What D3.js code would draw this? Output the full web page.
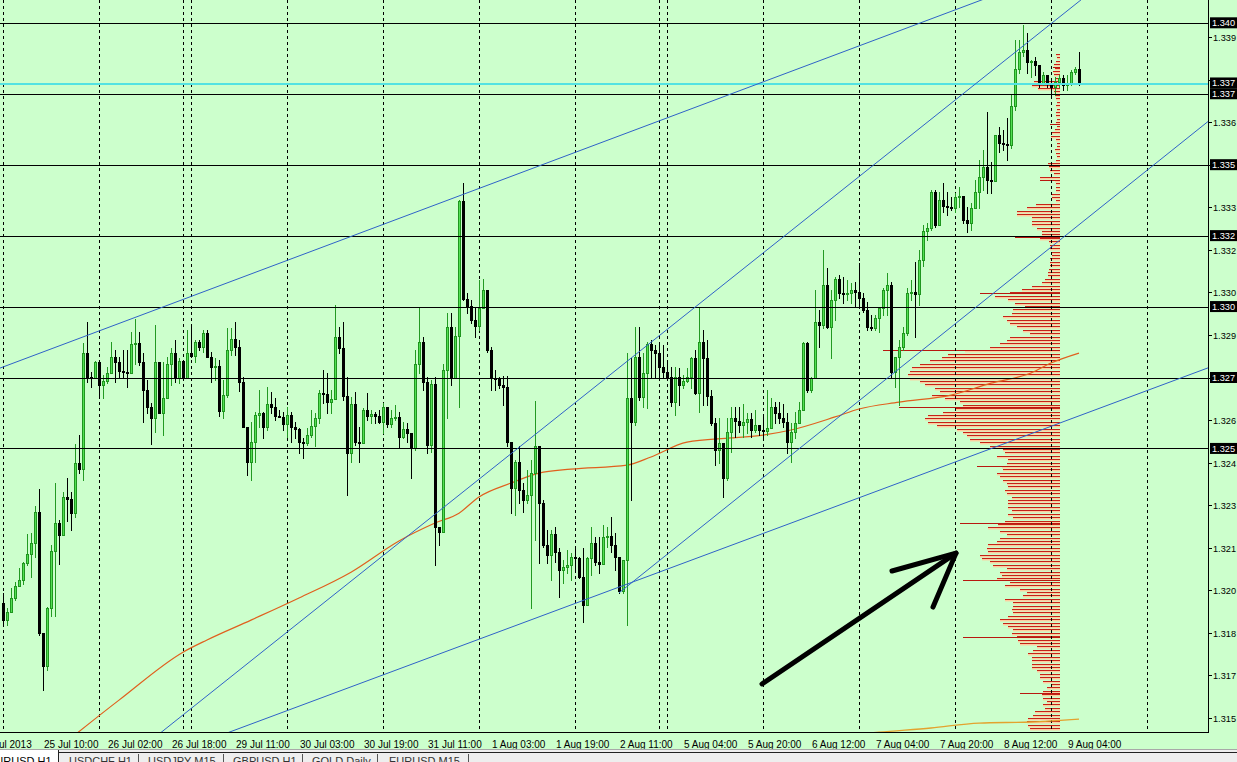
<!DOCTYPE html>
<html><head><meta charset="utf-8">
<script src="https://cdn.jsdelivr.net/npm/d3@7"></script>
<style>
html,body{margin:0;padding:0;background:#ccffcc;overflow:hidden}
svg{display:block}
text{font-family:"Liberation Sans",Arial,sans-serif}
</style></head><body>
<svg id="chart" width="1237" height="762"></svg>
<script>
// ---------- DATA (EURUSD H1, bar index 0 = 25 Jul 2013 00:00) ----------
const open = [
1.31905,1.31845,1.31873,1.31923,1.31965,1.31986,1.32046,1.32078,1.32116,1.32226,
1.31799,1.31683,1.31887,1.32088,1.32187,1.32145,1.32279,1.32272,1.32222,1.32398,
1.32377,1.32786,1.32701,1.32698,1.32754,1.32673,1.32687,1.32716,1.32772,1.32754,
1.32723,1.32719,1.32716,1.32818,1.32821,1.32754,1.32656,1.32596,1.32557,1.32754,
1.32575,1.32627,1.32747,1.32786,1.32698,1.32758,1.32698,1.32786,1.32775,1.32825,
1.32807,1.32857,1.32772,1.32737,1.32740,1.32582,1.32638,1.32797,1.32835,1.32807,
1.32684,1.32525,1.32402,1.32472,1.32568,1.32575,1.32525,1.32606,1.32596,1.32564,
1.32561,1.32536,1.32568,1.32525,1.32518,1.32472,1.32469,1.32497,1.32529,1.32557,
1.32645,1.32642,1.32613,1.32624,1.32842,1.32804,1.32634,1.32434,1.32606,1.32472,
1.32469,1.32585,1.32564,1.32571,1.32564,1.32543,1.32596,1.32536,1.32557,1.32561,
1.32490,1.32518,1.32504,1.32451,1.32747,1.32825,1.32684,1.32462,1.32677,1.32173,
1.32155,1.32726,1.32878,1.32698,1.32846,1.33322,1.32976,1.32952,1.32902,1.32881,
1.32945,1.33008,1.32797,1.32698,1.32694,1.32673,1.32666,1.32472,1.32310,1.32402,
1.32303,1.32268,1.32286,1.32363,1.32458,1.32257,1.32109,1.32074,1.32148,1.32085,
1.32021,1.32032,1.32039,1.32067,1.32064,1.31997,1.31898,1.32064,1.32116,1.32050,
1.32042,1.32138,1.32141,1.32109,1.32067,1.31947,1.32057,1.32627,1.32543,1.32772,
1.32631,1.32716,1.32818,1.32797,1.32786,1.32737,1.32719,1.32701,1.32613,1.32701,
1.32673,1.32687,1.32701,1.32768,1.32645,1.32825,1.32768,1.32634,1.32539,1.32444,
1.32469,1.32346,1.32508,1.32557,1.32546,1.32532,1.32543,1.32553,1.32515,1.32532,
1.32515,1.32511,1.32522,1.32596,1.32575,1.32557,1.32543,1.32472,1.32508,1.32539,
1.32585,1.32821,1.32656,1.32698,1.32895,1.32885,1.33026,1.32878,1.32973,1.33047,
1.32997,1.32994,1.32997,1.33008,1.33001,1.32980,1.32938,1.32878,1.32874,1.32909,
1.32945,1.33008,1.33026,1.32719,1.32772,1.32807,1.32857,1.32997,1.33001,1.32994,
1.33114,1.33216,1.33227,1.33353,1.33237,1.33325,1.33304,1.33301,1.33297,1.33336,
1.33339,1.33255,1.33244,1.33297,1.33353,1.33406,1.33441,1.33396,1.33392,1.33554,
1.33526,1.33523,1.33519,1.33656,1.33787,1.33847,1.33854,1.33812,1.33815,1.33801,
1.33738,1.33766,1.33738,1.33723,1.33741,1.33755,1.33730,1.33734,1.33776,1.33787];
const high = [
1.31940,1.31887,1.31958,1.31979,1.32028,1.32050,1.32148,1.32152,1.32247,1.32307,
1.31799,1.31891,1.32109,1.32328,1.32198,1.32296,1.32346,1.32296,1.32465,1.32497,
1.32821,1.32895,1.32719,1.32758,1.32754,1.32708,1.32737,1.32825,1.32797,1.32772,
1.32797,1.32797,1.32860,1.32906,1.32860,1.32786,1.32691,1.32610,1.32885,1.32754,
1.32754,1.32772,1.32804,1.32832,1.32768,1.32761,1.32867,1.32878,1.32832,1.32832,
1.32867,1.32867,1.32790,1.32768,1.32761,1.32691,1.32874,1.32874,1.32895,1.32832,
1.32701,1.32525,1.32543,1.32578,1.32656,1.32578,1.32666,1.32649,1.32627,1.32585,
1.32578,1.32596,1.32578,1.32543,1.32522,1.32487,1.32522,1.32585,1.32575,1.32656,
1.32726,1.32716,1.32656,1.32955,1.32878,1.32895,1.32701,1.32631,1.32649,1.32525,
1.32592,1.32645,1.32585,1.32578,1.32585,1.32610,1.32596,1.32585,1.32603,1.32578,
1.32543,1.32539,1.32504,1.32797,1.32945,1.32842,1.32701,1.32691,1.32701,1.32173,
1.32747,1.32927,1.32927,1.32878,1.33325,1.33385,1.32997,1.32973,1.32945,1.33043,
1.33047,1.33008,1.32807,1.32726,1.32701,1.32705,1.32705,1.32472,1.32409,1.32458,
1.32328,1.32374,1.32409,1.32617,1.32458,1.32268,1.32162,1.32162,1.32173,1.32099,
1.32057,1.32092,1.32081,1.32099,1.32067,1.32099,1.32067,1.32173,1.32138,1.32138,
1.32180,1.32173,1.32208,1.32152,1.32067,1.32057,1.32786,1.32768,1.32878,1.32878,
1.32786,1.32825,1.32832,1.32814,1.32814,1.32814,1.32751,1.32737,1.32737,1.32733,
1.32708,1.32733,1.32772,1.32797,1.32945,1.32867,1.32832,1.32656,1.32557,1.32557,
1.32469,1.32557,1.32596,1.32596,1.32596,1.32606,1.32575,1.32575,1.32585,1.32532,
1.32561,1.32656,1.32627,1.32613,1.32613,1.32606,1.32575,1.32539,1.32578,1.32613,
1.32825,1.32825,1.32701,1.33008,1.32938,1.33149,1.33086,1.33008,1.33054,1.33061,
1.33054,1.33043,1.33033,1.33036,1.33103,1.32997,1.32966,1.32920,1.32920,1.32945,
1.33015,1.33068,1.33036,1.32772,1.32832,1.32878,1.33015,1.33043,1.33107,1.33149,
1.33237,1.33244,1.33360,1.33360,1.33353,1.33385,1.33353,1.33336,1.33350,1.33371,
1.33339,1.33301,1.33315,1.33396,1.33466,1.33501,1.33635,1.33459,1.33554,1.33582,
1.33572,1.33614,1.33695,1.33889,1.33889,1.33942,1.33914,1.33819,1.33829,1.33801,
1.33776,1.33766,1.33755,1.33759,1.33766,1.33766,1.33766,1.33783,1.33794,1.33847];
const low = [
1.31827,1.31827,1.31873,1.31916,1.31965,1.31972,1.32039,1.31997,1.32067,1.31792,
1.31598,1.31669,1.31859,1.31859,1.32042,1.32145,1.32194,1.32162,1.32208,1.32363,
1.32338,1.32684,1.32666,1.32698,1.32638,1.32627,1.32680,1.32716,1.32684,1.32701,
1.32701,1.32666,1.32716,1.32747,1.32744,1.32543,1.32575,1.32465,1.32508,1.32575,
1.32497,1.32627,1.32673,1.32684,1.32680,1.32691,1.32698,1.32772,1.32754,1.32797,
1.32790,1.32772,1.32684,1.32691,1.32564,1.32557,1.32631,1.32779,1.32779,1.32652,
1.32525,1.32356,1.32338,1.32402,1.32525,1.32487,1.32515,1.32575,1.32550,1.32561,
1.32515,1.32490,1.32472,1.32487,1.32434,1.32416,1.32462,1.32490,1.32458,1.32539,
1.32610,1.32575,1.32575,1.32624,1.32786,1.32620,1.32286,1.32402,1.32462,1.32402,
1.32469,1.32550,1.32539,1.32539,1.32539,1.32504,1.32525,1.32525,1.32550,1.32455,
1.32487,1.32472,1.32346,1.32444,1.32716,1.32656,1.32434,1.32437,1.32039,1.32109,
1.32155,1.32557,1.32673,1.32698,1.32596,1.32973,1.32927,1.32892,1.32842,1.32867,
1.32945,1.32790,1.32656,1.32656,1.32663,1.32603,1.32458,1.32222,1.32215,1.32257,
1.32226,1.32257,1.31887,1.32127,1.32046,1.32102,1.32046,1.31986,1.32050,1.31926,
1.31976,1.32011,1.31986,1.32021,1.31993,1.31838,1.31898,1.32004,1.32039,1.32011,
1.32042,1.32102,1.32085,1.32021,1.31940,1.31940,1.31827,1.32268,1.32532,1.32620,
1.32596,1.32592,1.32701,1.32701,1.32701,1.32701,1.32698,1.32599,1.32568,1.32603,
1.32663,1.32684,1.32663,1.32642,1.32578,1.32603,1.32603,1.32532,1.32391,1.32398,
1.32279,1.32338,1.32437,1.32490,1.32508,1.32490,1.32504,1.32490,1.32508,1.32497,
1.32490,1.32497,1.32522,1.32539,1.32539,1.32525,1.32434,1.32402,1.32487,1.32539,
1.32585,1.32649,1.32649,1.32698,1.32807,1.32874,1.32874,1.32768,1.32902,1.32980,
1.32962,1.32973,1.32962,1.32948,1.32948,1.32931,1.32867,1.32867,1.32867,1.32860,
1.32920,1.32920,1.32698,1.32666,1.32603,1.32797,1.32849,1.32973,1.32842,1.32955,
1.33093,1.33184,1.33219,1.33230,1.33237,1.33283,1.33272,1.33290,1.33283,1.33301,
1.33244,1.33212,1.33219,1.33297,1.33297,1.33360,1.33350,1.33350,1.33392,1.33494,
1.33501,1.33466,1.33508,1.33642,1.33773,1.33833,1.33773,1.33759,1.33766,1.33723,
1.33730,1.33723,1.33695,1.33695,1.33723,1.33713,1.33713,1.33730,1.33769,1.33730];
const close = [
1.31845,1.31873,1.31923,1.31965,1.31986,1.32046,1.32078,1.32116,1.32226,1.31799,
1.31683,1.31887,1.32088,1.32187,1.32145,1.32279,1.32272,1.32222,1.32398,1.32377,
1.32786,1.32701,1.32698,1.32754,1.32673,1.32687,1.32716,1.32772,1.32754,1.32723,
1.32719,1.32716,1.32818,1.32821,1.32754,1.32656,1.32596,1.32557,1.32754,1.32575,
1.32627,1.32747,1.32786,1.32698,1.32758,1.32698,1.32786,1.32775,1.32825,1.32807,
1.32857,1.32772,1.32737,1.32740,1.32582,1.32638,1.32797,1.32835,1.32807,1.32684,
1.32525,1.32402,1.32472,1.32568,1.32575,1.32525,1.32606,1.32596,1.32564,1.32561,
1.32536,1.32568,1.32525,1.32518,1.32472,1.32469,1.32497,1.32529,1.32557,1.32645,
1.32642,1.32613,1.32624,1.32842,1.32804,1.32634,1.32434,1.32606,1.32472,1.32469,
1.32585,1.32564,1.32571,1.32564,1.32543,1.32596,1.32536,1.32557,1.32561,1.32490,
1.32518,1.32504,1.32451,1.32747,1.32825,1.32684,1.32462,1.32677,1.32173,1.32155,
1.32726,1.32878,1.32698,1.32846,1.33322,1.32976,1.32952,1.32902,1.32881,1.32945,
1.33008,1.32797,1.32698,1.32694,1.32673,1.32666,1.32472,1.32310,1.32402,1.32303,
1.32268,1.32286,1.32363,1.32458,1.32257,1.32109,1.32074,1.32148,1.32085,1.32021,
1.32032,1.32039,1.32067,1.32064,1.31997,1.31898,1.32064,1.32116,1.32050,1.32042,
1.32138,1.32141,1.32109,1.32067,1.31947,1.32057,1.32627,1.32543,1.32772,1.32631,
1.32716,1.32818,1.32797,1.32786,1.32737,1.32719,1.32701,1.32613,1.32701,1.32673,
1.32687,1.32701,1.32768,1.32645,1.32825,1.32768,1.32634,1.32539,1.32444,1.32469,
1.32346,1.32508,1.32557,1.32546,1.32532,1.32543,1.32553,1.32515,1.32532,1.32515,
1.32511,1.32522,1.32596,1.32575,1.32557,1.32543,1.32472,1.32508,1.32539,1.32585,
1.32821,1.32656,1.32698,1.32895,1.32885,1.33026,1.32878,1.32973,1.33047,1.32997,
1.32994,1.32997,1.33008,1.33001,1.32980,1.32938,1.32878,1.32874,1.32909,1.32945,
1.33008,1.33026,1.32719,1.32772,1.32807,1.32857,1.32997,1.33001,1.32994,1.33114,
1.33216,1.33227,1.33353,1.33237,1.33325,1.33304,1.33301,1.33297,1.33336,1.33339,
1.33255,1.33244,1.33297,1.33353,1.33406,1.33441,1.33396,1.33392,1.33554,1.33526,
1.33523,1.33519,1.33656,1.33787,1.33847,1.33854,1.33812,1.33815,1.33801,1.33738,
1.33766,1.33738,1.33723,1.33741,1.33755,1.33730,1.33734,1.33776,1.33787,1.33738];

const priceTicks = [1.3150,1.3165,1.3180,1.3195,1.3210,1.3225,1.3240,1.3255,1.3270,1.3285,1.3300,1.3315,1.3330,1.3345,1.3360,1.3375,1.3390];
const priceTickLabels = ["1.315","1.317","1.318","1.320","1.321","1.323","1.324","1.326","1.327","1.329","1.330","1.332","1.333","1.335","1.336","1.338","1.339"];

const timeLabelBars = [-6,10,26,42,58,74,90,106,122,138,154,170,186,202,218,234,250,266];
const timeLabels = ["24 Jul 2013","25 Jul 10:00","26 Jul 02:00","26 Jul 18:00","29 Jul 11:00","30 Jul 03:00","30 Jul 19:00","31 Jul 11:00","1 Aug 03:00","1 Aug 19:00","2 Aug 11:00","5 Aug 04:00","5 Aug 20:00","6 Aug 12:00","7 Aug 04:00","7 Aug 20:00","8 Aug 12:00","9 Aug 04:00"];
const dayStartBars = [0,24,45,47,71,95,119,143,164,166,190,214,238,262,286];

const levelPrices = [1.3395,1.3370,1.3345,1.3320,1.3295,1.3270,1.3245];
const levelLabels = ["1.340","1.337","1.335","1.332","1.330","1.327","1.325"];
const bidPrice = 1.33738;
const bidLabel = "1.337";

// moving averages: [bar, value]
const maMid = [[12,1.31373],[29,1.31563],[45,1.31732],[51,1.31775],[62,1.31845],[74,1.31923],[87,1.32014],[99,1.32124],[108,1.32187],[114,1.32222],[119,1.32279],[127,1.32328],[134,1.32363],[142,1.32377],[156,1.32391],[162,1.32420],[171,1.32472],[182,1.32487],[190,1.32497],[197,1.32515],[208,1.32561],[214,1.32589],[224,1.32613],[237,1.32638],[247,1.32680],[257,1.32716],[262,1.32751],[269,1.32786]];
const maLong = [[205,1.31430],[219,1.31450],[232,1.31465],[244,1.31482],[257,1.31486],[269,1.31496]];

// trend lines: two anchors [bar, price], drawn from startBar to endBar
const trendAnchors1 = [[10,1.32790],[240,1.34006]];
const trendAnchors2 = [[108,1.32218],[250,1.33812]];
const trendAnchors3 = [[154,1.31941],[250,1.33024]];
const trendAnchors4 = [[100,1.31678],[250,1.32465]];
const trendStartBars = [-10,0,154,0];
const trendEndBar = 330;

// price profile (counts per level, from top level downward)
const profileTop = 1.3384;
const profileStep = 0.00012;
const profileAnchorBar = 264.25;
const profileCounts = [
4,3,4,6,5,7,6,5,26,28,22,6,5,4,3,4,3,4,4,3,
4,3,5,8,9,4,3,3,5,4,3,4,12,11,10,6,20,5,4,4,
4,8,8,4,24,33,43,43,28,28,28,23,18,18,20,11,10,10,9,8,
10,10,10,11,12,12,15,18,28,38,50,65,52,45,35,47,48,57,53,50,
43,37,30,50,53,60,70,95,112,118,130,140,148,150,152,150,140,135,125,120,
128,115,100,97,104,117,132,135,132,123,103,97,93,90,80,70,57,55,63,52,
53,58,57,63,60,57,53,52,55,53,48,52,52,52,48,52,47,55,62,72,
60,53,60,63,72,73,72,80,78,70,67,53,60,58,63,50,55,40,33,37,
55,47,47,48,47,52,60,57,52,47,48,43,42,40,23,27,32,28,28,28,
28,23,20,20,17,8,13,17,18,17,13,17,15,25,27,32,33,32,30,20];
const markPrices = [1.31588,1.31785,1.31986,1.32187,1.32388,1.32596,1.32797,1.32997,1.33195,1.33396,1.33593,1.33794];
const markCounts = [40,97,97,100,83,161,177,80,45,20,10,7];

// annotation arrow: [bar, price]
const arrowShaft = [[189.75,1.31620],[238.25,1.32081]];
const arrowHead = [[222.25,1.32018],[238.25,1.32081],[232.5,1.31891]];

const tabs = ["EURUSD H1","USDCHF H1","USDJPY M15","GBPUSD H1","GOLD Daily","EURUSD M15"];

// ---------- DRAWING ----------
const W = 1237, H = 762;
const plotRight = 1208, plotBottom = 732;
const svg = d3.select("#chart");
const x = d3.scaleLinear().domain([0, 269]).range([3, 1079]);
const y = d3.scaleLinear().domain([1.3150, 1.3390]).range([718, 37]);
const lenScale = d3.scaleLinear().domain([0, 100]).range([0, 100]);

svg.append("rect").attr("width", W).attr("height", H).attr("fill", "#ccffcc");
svg.append("defs").append("clipPath").attr("id", "plot")
  .append("rect").attr("x", 0).attr("y", 0).attr("width", plotRight).attr("height", plotBottom);
const g = svg.append("g").attr("clip-path", "url(#plot)");

// profile
const xR = x(profileAnchorBar);
const prof = g.append("g");
profileCounts.forEach((c, k) => {
  const yy = Math.round(y(profileTop - k * profileStep));
  const L = lenScale(c);
  prof.append("rect").attr("x", xR - L).attr("y", yy + 1).attr("width", L).attr("height", 1.4).attr("fill", "#ffcc9e");
  prof.append("rect").attr("x", xR - L).attr("y", yy).attr("width", L).attr("height", 1).attr("fill", "#c42418");
});
markPrices.forEach((p, i) => {
  const yy = Math.round(y(p));
  const L = lenScale(markCounts[i]);
  prof.append("rect").attr("x", xR - L).attr("y", yy).attr("width", L).attr("height", 1).attr("fill", "#b81810");
});

// vertical dashed grid (day separators)
g.selectAll("line.grid").data(dayStartBars).join("line")
  .attr("x1", d => Math.round(x(d)) + 0.5).attr("x2", d => Math.round(x(d)) + 0.5)
  .attr("y1", 0).attr("y2", plotBottom)
  .attr("stroke", "#000").attr("stroke-width", 1).attr("stroke-dasharray", "3,3");

// moving averages
const maLine = d3.line().x(d => x(d[0])).y(d => y(d[1])).curve(d3.curveMonotoneX);
g.append("path").attr("d", maLine(maMid)).attr("fill", "none").attr("stroke", "#e0601e").attr("stroke-width", 1.2);
g.append("path").attr("d", maLine(maLong)).attr("fill", "none").attr("stroke", "#e3a22e").attr("stroke-width", 1.4);

// candles
const cg = g.append("g").attr("shape-rendering", "crispEdges");
for (let i = 0; i < close.length; i++) {
  const cx = Math.round(x(i));
  const o = open[i], c = close[i];
  const hi = Math.max(high[i], o, c), lo = Math.min(low[i], o, c);
  const bull = c >= o;
  const yH = Math.round(y(hi)), yL = Math.round(y(lo));
  const t = Math.round(y(Math.max(o, c))), b = Math.round(y(Math.min(o, c)));
  const h = Math.max(1, b - t + 1);
  cg.append("rect").attr("x", cx).attr("y", yH).attr("width", 1).attr("height", Math.max(1, yL - yH + 1))
    .attr("fill", bull ? "#229a22" : "#000");
  if (bull) {
    cg.append("rect").attr("x", cx - 1).attr("y", t).attr("width", 3).attr("height", h).attr("fill", "#1f961f");
    if (h > 2) cg.append("rect").attr("x", cx).attr("y", t + 1).attr("width", 1).attr("height", h - 2).attr("fill", "#52e052");
  } else {
    cg.append("rect").attr("x", cx - 1).attr("y", t).attr("width", 3).attr("height", h).attr("fill", "#000");
  }
}

// horizontal levels
g.selectAll("line.lvl").data(levelPrices).join("line")
  .attr("x1", 0).attr("x2", plotRight)
  .attr("y1", d => Math.round(y(d)) + 0.5).attr("y2", d => Math.round(y(d)) + 0.5)
  .attr("stroke", "#000").attr("stroke-width", 1.2);
g.append("line").attr("x1", 0).attr("x2", plotRight)
  .attr("y1", y(bidPrice) + 1).attr("y2", y(bidPrice) + 1)
  .attr("stroke", "#52e2e2").attr("stroke-width", 2);

// trend lines
[trendAnchors1, trendAnchors2, trendAnchors3, trendAnchors4].forEach((a, i) => {
  const slope = (a[1][1] - a[0][1]) / (a[1][0] - a[0][0]);
  const s = trendStartBars[i], e = trendEndBar;
  g.append("line")
    .attr("x1", x(s)).attr("y1", y(a[0][1] + slope * (s - a[0][0])))
    .attr("x2", x(e)).attr("y2", y(a[0][1] + slope * (e - a[0][0])))
    .attr("stroke", "#2f62c8").attr("stroke-width", 1);
});

// arrow
const arr = d3.line().x(d => x(d[0])).y(d => y(d[1]));
g.append("path").attr("d", arr(arrowShaft)).attr("fill", "none").attr("stroke", "#000").attr("stroke-width", 5).attr("stroke-linecap", "round");
g.append("path").attr("d", arr(arrowHead)).attr("fill", "none").attr("stroke", "#000").attr("stroke-width", 5).attr("stroke-linecap", "round").attr("stroke-linejoin", "round");

// axes frame
svg.append("line").attr("x1", plotRight + 0.5).attr("x2", plotRight + 0.5).attr("y1", 0).attr("y2", plotBottom + 1).attr("stroke", "#000");
svg.append("line").attr("x1", 0).attr("x2", plotRight + 1).attr("y1", plotBottom + 0.5).attr("y2", plotBottom + 0.5).attr("stroke", "#000");

// price axis ticks (labels hidden behind a level box are not drawn, as in the reference)
const ax = svg.append("g");
const boxYs = levelPrices.concat([bidPrice]).map(v => y(v));
priceTicks.forEach((v, i) => {
  const yy = Math.round(y(v)) + 0.5;
  ax.append("line").attr("x1", plotRight + 1).attr("x2", plotRight + 4).attr("y1", yy).attr("y2", yy).attr("stroke", "#000");
  if (boxYs.some(by => Math.abs(by - yy) < 9)) return;
  ax.append("text").attr("x", plotRight + 5).attr("y", yy + 3.5).attr("font-size", 9.2).attr("fill", "#000").text(priceTickLabels[i]);
});
// level label boxes
function box(v, label) {
  const yy = y(v);
  ax.append("rect").attr("x", plotRight + 2).attr("y", yy - 5.5).attr("width", W - plotRight - 2).attr("height", 11).attr("fill", "#000");
  ax.append("text").attr("x", plotRight + 4).attr("y", yy + 3.5).attr("font-size", 9.2).attr("fill", "#fff").text(label);
}
levelPrices.forEach((v, i) => box(v, levelLabels[i]));
box(bidPrice, bidLabel);

// time axis labels
timeLabelBars.forEach((b, i) => {
  svg.append("text").attr("x", Math.round(x(b)) + 1).attr("y", 748).attr("font-size", 10).attr("fill", "#000").text(timeLabels[i]);
});

// tab strip
svg.append("rect").attr("x", 0).attr("y", 750).attr("width", W).attr("height", 12).attr("fill", "#eeeeee");
svg.append("rect").attr("x", 0).attr("y", 750).attr("width", 58).attr("height", 12).attr("fill", "#ffffff");
svg.append("line").attr("x1", 58).attr("x2", W).attr("y1", 752.5).attr("y2", 752.5).attr("stroke", "#222");
svg.append("line").attr("x1", 0).attr("x2", W).attr("y1", 749.5).attr("y2", 749.5).attr("stroke", "#a8a8a8");
svg.append("line").attr("x1", 58.5).attr("x2", 58.5).attr("y1", 750).attr("y2", 762).attr("stroke", "#222");
const tabX = [-12, 69, 148, 233, 312, 389];
const sepX = [138, 223, 302, 377, 468];
tabs.forEach((t, i) => {
  svg.append("text").attr("x", tabX[i]).attr("y", 765).attr("font-size", 11).attr("fill", i === 0 ? "#000" : "#333").text(t);
});
sepX.forEach(s => svg.append("line").attr("x1", s + 0.5).attr("x2", s + 0.5).attr("y1", 754).attr("y2", 762).attr("stroke", "#555"));
</script>
</body></html>
